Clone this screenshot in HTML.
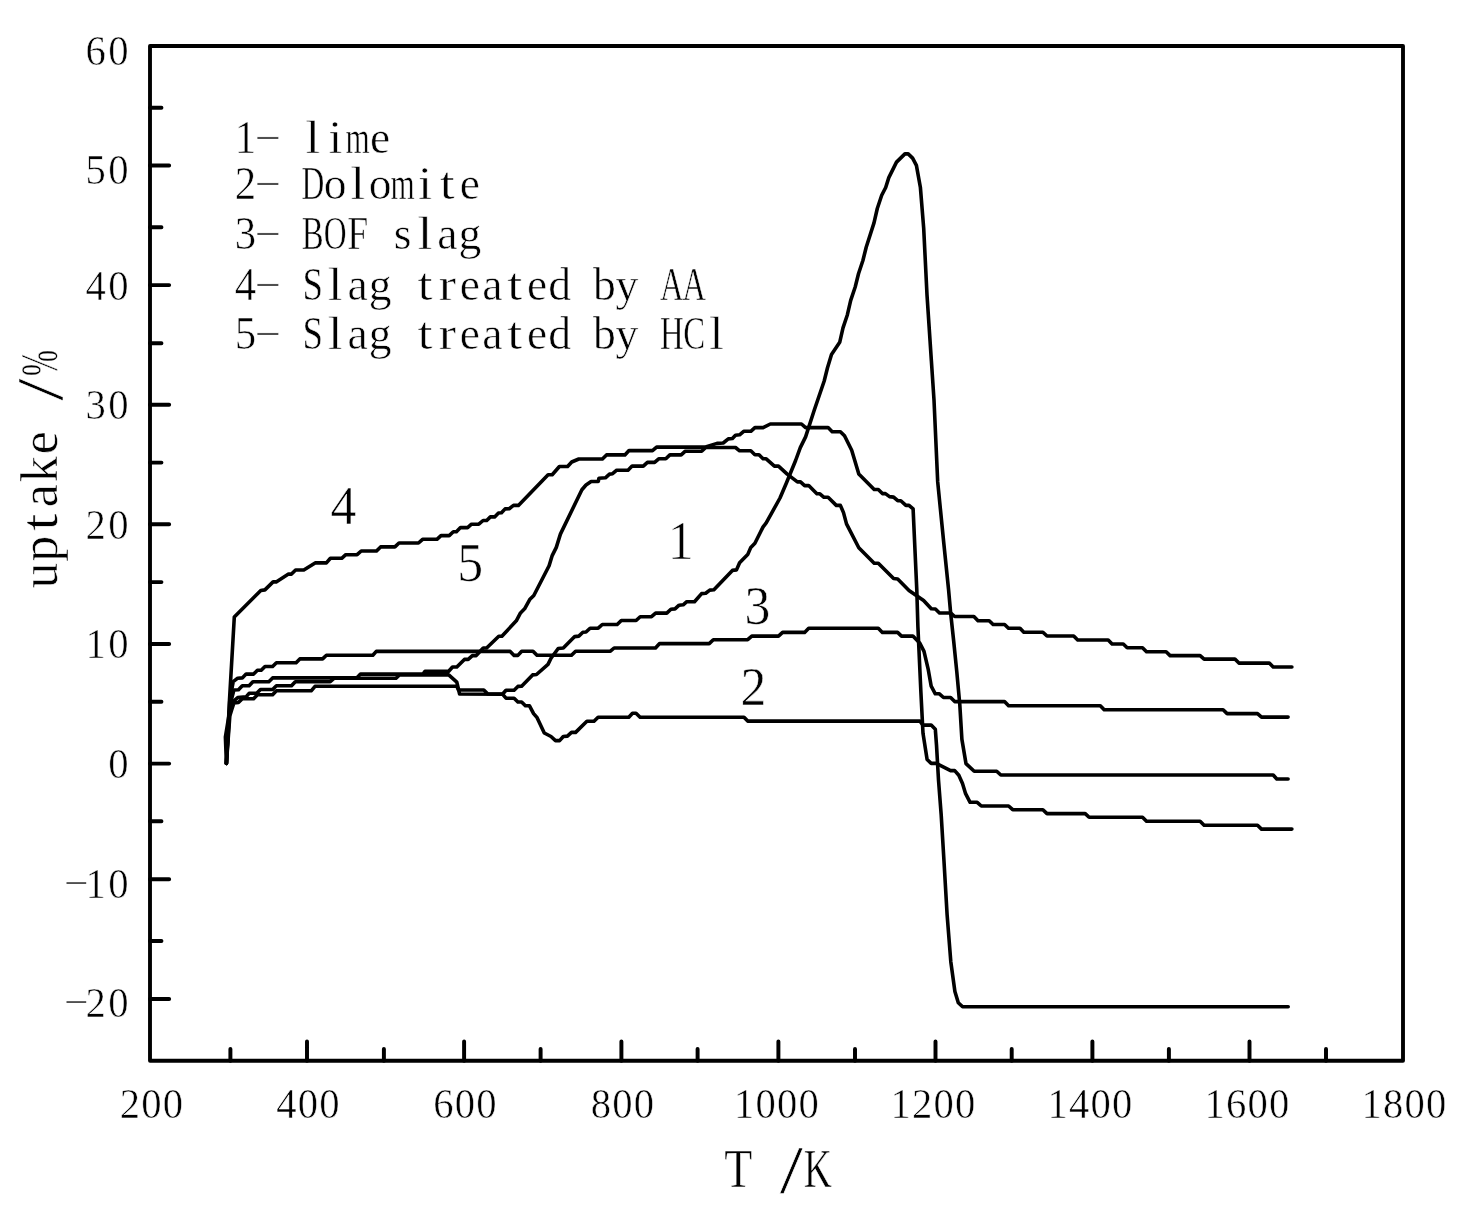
<!DOCTYPE html>
<html lang="en"><head><meta charset="utf-8"><title>uptake vs T</title>
<style>html,body{margin:0;padding:0;background:#fff;overflow:hidden}svg{display:block}text{font-family:'Liberation Serif','Noto Serif CJK SC',serif;fill:#000;stroke:#fff;stroke-width:.55px;paint-order:fill stroke}</style></head>
<body>
<svg width="1479" height="1221" viewBox="0 0 1479 1221">
<rect width="1479" height="1221" fill="#fff"/>
<rect x="150" y="46" width="1253.00" height="1014.75" fill="none" stroke="#000" stroke-width="3.88" stroke-linejoin="round"/>
<path d="M150 165.5H169.15M150 285.1H169.15M150 404.8H169.15M150 524.2H169.15M150 644.0H169.15M150 763.6H169.15M150 879.2H169.15M150 998.9H169.15M150 107.7H161.45M150 227.3H161.45M150 343.3H161.45M150 462.6H161.45M150 582.1H161.45M150 701.8H161.45M150 821.3H161.45M150 940.9H161.45M307.0 1060.75V1041.5M464.1 1060.75V1041.5M621.4 1060.75V1041.5M778.4 1060.75V1041.5M935.5 1060.75V1041.5M1092.4 1060.75V1041.5M1249.5 1060.75V1041.5M230.4 1060.75V1049M383.9 1060.75V1049M540.6 1060.75V1049M697.6 1060.75V1049M855.0 1060.75V1049M1011.7 1060.75V1049M1168.9 1060.75V1049M1326.0 1060.75V1049" fill="none" stroke="#000" stroke-width="3.95" stroke-linecap="round"/>
<g fill="none" stroke="#000" stroke-width="3.6" stroke-linejoin="round" stroke-linecap="round">
<polyline points="226.4,763.5 229.5,700 234.3,617 260.8,590.5 264.9,589.9 273.1,581.9 276.2,581.9 288.5,574.1 291.5,574.1 295.6,570 303.8,570 315.1,562.9 326.4,562.9 330.4,558.3 341.7,558.3 345.8,554.7 357.1,554.7 361.2,551 376.5,551 380.6,546.9 394.9,546.9 399,543 418.5,543 422.6,539.3 436.9,539.3 441,535.6 449.2,535.6 453.3,531.7 456.4,531.7 460.5,527.6 467.6,527.6 471.5,524.2 478.8,524.2 483.1,520.5 486.7,520.5 490.4,516.9 494.6,516.9 498.5,513 501.5,512.8 505.1,508.9 509.2,508.7 513.5,505.4 518.4,505.4 548.1,474.7 552.2,474.7 559.4,466.5 567.6,466.5 571.7,462 578.8,459 602.4,459 606.5,454.9 624.9,454.9 629,450.6 652.5,450.6 656.6,447.1 704.8,447.1 717,443.4 723.2,443 728.3,438.9 732.4,438.5 735.5,435.2 739.6,434.8 743.7,431.3 750.8,431.3 754.9,427.6 763.1,427.6 770.3,424 801.5,424 805.6,427.6 828.1,427.6 832.2,431.7 840.4,431.7 844.5,435.8 851.7,450.2 858.8,474.1 874.2,489.5 878.3,489.5 882.4,493.6 885.4,493.6 889.5,496.6 893.6,497.1 897.7,500.7 900.8,500.7 905.9,505.4 909,505.4 913.1,508.9 916.8,590 917.9,626.8 920.9,692.4 923,733.3 927.1,759.5 931.2,763.4 936.3,763.4 950.6,770.6 954.7,770.6 958.8,775.3 962.5,783.5 965.6,793.7 970.1,802.3 977.2,802.3 981.3,806 1008.6,806 1012.7,809.7 1042.9,809.7 1047,813.6 1085.2,813.6 1089.1,817.3 1142.5,817.3 1146.5,821.3 1200.1,821.3 1204.1,825.2 1257.5,825.2 1261.5,829.1 1291.9,829.1"/>
<polyline points="226.4,763.5 229.8,700 233.2,681.7 237.7,678.2 242.3,677.9 246.1,674.1 253.6,674.1 257.4,670.3 261.2,670.3 265,666.5 272.6,666.5 276.4,662.7 296.1,662.7 299.8,658.9 322.6,658.9 326.4,655.3 372.8,655.3 376.3,651.4 510.2,651.4 514.1,655.4 517.9,655.4 521.7,651.2 533,651.2 537,655.3 571.5,655.3 575.6,651.2 610.4,651.2 614.1,648 655.5,648 659.6,643.6 709.2,643.6 713.3,639.7 747.7,639.7 751.8,636.1 778.5,636.1 782.6,632.4 804.6,632.4 808.7,628.3 878.3,628.3 882.4,632.4 897.6,632.4 901.5,636.1 912.9,636.1 919.9,643.2 924,651.4 928.1,668.8 931.2,686.2 935.3,693.8 939.4,693.8 943.5,697.5 950.6,697.5 954.7,701.6 1004.5,701.6 1008.6,705.8 1100.3,705.8 1104.2,709.8 1223.1,709.8 1227.1,713.6 1257.5,713.6 1261.5,717.1 1288.1,717.1"/>
<polyline points="226.4,763.5 230,705 233.9,690 238.5,689.7 242.3,685.8 249.1,685.8 252.9,681.7 268.8,681.7 272.6,677.9 356.7,677.9 360.5,674.1 423,674.1 425,671.3 448.7,671.3 452.5,667 456.8,667 464.4,659.4 468.2,659.4 472.4,655.6 476.2,655.6 483.3,648 486.6,648 498.8,636.2 501.9,636.2 516.3,620.8 520.5,612.9 524.6,608.8 529.7,599.6 533.8,595.5 549.1,565.8 552.2,555.6 556.3,547.4 560.4,534.1 581.9,489.7 586,485 591.1,481.5 598.3,481.5 598.9,478.2 605.4,477.8 609.5,474.1 612.6,473.7 616.7,470.2 628,470.2 632.1,466.1 643.3,466.1 647.4,462.4 654.6,462.4 658.7,458.8 665.8,458.8 669.9,454.9 681.2,454.9 685.3,451.2 701.7,451.2 705.8,447.5 735.5,447.5 739.6,450.8 750.8,450.8 754.9,454.7 759,454.7 763.1,458.8 766.2,458.8 774.4,466.1 778.5,466.1 787.2,474.1 797.4,481.9 800.5,481.9 804.6,485.6 808.7,485.6 816.9,493.8 819.9,493.8 824,497.3 828.1,497.3 836.3,505.4 840.4,505.4 843.5,512.6 846.5,523.9 858.8,547.8 874.2,563.2 878.3,563.2 893.6,578.5 897.7,579 909,590.4 923.6,600.5 931.3,608.8 935.4,609 939.5,613 950.8,613 954.7,616.5 973.9,616.5 978,620.7 989.2,620.7 993.1,624.5 1004.6,624.5 1008.5,628.3 1020,628.3 1023.8,632.2 1042.9,632.2 1047,636 1073.7,636 1077.7,640 1108.2,640 1112.1,644 1123.3,644 1127.2,647.7 1142.5,647.7 1146.5,651.7 1166.1,651.7 1170.1,655.6 1200.1,655.6 1204.1,659.1 1234.9,659.1 1238.9,663.1 1269.3,663.1 1273.2,667 1291.9,667"/>
<polyline points="226.4,763.5 225.4,737 229.5,712 232.4,702.1 237.7,697.6 246.1,696.8 249.1,693.3 256.7,693.3 260.5,689.5 272.6,689.5 276.4,685.8 291.5,685.8 295.3,681.7 330.2,681.7 333.9,678.3 396,678.3 399.4,674.9 448.7,674.9 456.8,682.1 459.6,694 502.7,694.3 506,698.2 514.1,698.2 517.9,702 521.6,702 525.4,705.8 529.5,705.8 533.6,713.6 537.1,717.7 544.3,733 551,736.5 555.5,740.6 559.6,740.6 563.3,736.5 567.4,736.1 571.5,732.4 575.6,732.4 586.9,721.3 594,721.3 598.1,717.2 628.8,717.2 632.5,713.2 636,713.2 640.1,717.2 744,717.2 747.7,721.1 919.9,721.1 923,725.1 931.2,725.1 935.3,729.2 936.5,745 938.5,780 941.2,815 944,861.4 947.1,914.6 950.8,961.7 954.9,991.4 958.3,1002.7 962.6,1006.8 1288.2,1006.8"/>
<polyline points="226.4,763.5 229.8,716 231.7,709.7 233.9,702.9 238.5,702.4 242.3,698.8 253.6,698.8 257.4,694.8 272.6,694.8 276.4,690.8 311.2,690.8 315,686.3 456.8,686.3 458.5,690 483.8,690 487.6,693.8 502.7,694 506,690.2 514.1,690.2 517.9,686.4 521.6,686.2 532.6,674.9 536.5,674.5 548,664.4 551,658.3 558.2,648.5 563.3,648 574.7,636.6 578.8,636.1 582.9,632.3 586,632 590.1,628.2 598.2,628.2 602.3,624.5 617.2,624.5 621.3,620.5 636.1,620.5 640.2,616.7 651.5,616.7 655.6,613.1 666.8,613.1 670.9,609.3 675,608.9 679.1,605.2 683.2,604.8 686.8,601.7 694.5,601.7 701.6,593.6 705.7,593.2 709.8,590.1 713.9,589.7 732.4,570.4 736.5,569.9 739.6,562.8 747.7,554.6 750.8,547.4 754.9,543.3 763.1,526.9 766.2,522.9 780,498 786.4,483 795.6,460.5 800.3,447.6 805.6,436.9 814.3,410 824.2,381 827.5,367.7 831.5,354.4 839.7,342.3 843,327.9 847.4,314.7 850.7,300.3 855.2,287 858.5,273.8 862.9,260.5 866.2,247.2 874,222.9 877.3,208.5 881.7,195.3 885.7,187.5 888.8,177.6 896.5,162.1 904.9,153.9 908.2,153.9 912.6,158.1 916.4,165.4 920.4,187.5 923.7,228.4 927,294.8 931.4,361.1 934,400 937.7,481.9 943.8,543.3 948.6,590 950.6,612.5 953.7,641.2 956.8,671.9 959.8,704.6 961.9,739.4 966,763.6 974.2,771.2 996.7,771.2 1000.8,775 1273.2,775 1276.8,779 1288.1,779"/>
</g>
<text x="95.70 118.40" y="65.30" font-size="43.20" text-anchor="middle"><tspan textLength="20.30" lengthAdjust="spacingAndGlyphs">6</tspan><tspan textLength="20.30" lengthAdjust="spacingAndGlyphs">0</tspan></text>
<text x="95.70 118.40" y="183.90" font-size="43.20" text-anchor="middle"><tspan textLength="20.30" lengthAdjust="spacingAndGlyphs">5</tspan><tspan textLength="20.30" lengthAdjust="spacingAndGlyphs">0</tspan></text>
<text x="95.70 118.40" y="300.10" font-size="43.20" text-anchor="middle"><tspan textLength="20.30" lengthAdjust="spacingAndGlyphs">4</tspan><tspan textLength="20.30" lengthAdjust="spacingAndGlyphs">0</tspan></text>
<text x="95.70 118.40" y="419.20" font-size="43.20" text-anchor="middle"><tspan textLength="20.30" lengthAdjust="spacingAndGlyphs">3</tspan><tspan textLength="20.30" lengthAdjust="spacingAndGlyphs">0</tspan></text>
<text x="95.70 118.40" y="539.10" font-size="43.20" text-anchor="middle"><tspan textLength="20.30" lengthAdjust="spacingAndGlyphs">2</tspan><tspan textLength="20.30" lengthAdjust="spacingAndGlyphs">0</tspan></text>
<text x="95.70 118.40" y="658.20" font-size="43.20" text-anchor="middle"><tspan textLength="20.30" lengthAdjust="spacingAndGlyphs">1</tspan><tspan textLength="20.30" lengthAdjust="spacingAndGlyphs">0</tspan></text>
<text x="118.40" y="778.10" font-size="43.20" text-anchor="middle"><tspan textLength="20.30" lengthAdjust="spacingAndGlyphs">0</tspan></text>
<text x="76.30 95.70 118.40" y="889.30 898.20 898.20" font-size="43.20" text-anchor="middle"><tspan font-size="25.92" textLength="27.65" lengthAdjust="spacingAndGlyphs">-</tspan><tspan textLength="20.30" lengthAdjust="spacingAndGlyphs">1</tspan><tspan textLength="20.30" lengthAdjust="spacingAndGlyphs">0</tspan></text>
<text x="76.30 95.70 118.40" y="1008.00 1016.90 1016.90" font-size="43.20" text-anchor="middle"><tspan font-size="25.92" textLength="27.65" lengthAdjust="spacingAndGlyphs">-</tspan><tspan textLength="20.30" lengthAdjust="spacingAndGlyphs">2</tspan><tspan textLength="20.30" lengthAdjust="spacingAndGlyphs">0</tspan></text>
<text x="129.90 151.40 172.90" y="1118.30" font-size="43.20" text-anchor="middle"><tspan textLength="20.30" lengthAdjust="spacingAndGlyphs">2</tspan><tspan textLength="20.30" lengthAdjust="spacingAndGlyphs">0</tspan><tspan textLength="20.30" lengthAdjust="spacingAndGlyphs">0</tspan></text>
<text x="286.50 308.00 329.50" y="1118.30" font-size="43.20" text-anchor="middle"><tspan textLength="20.30" lengthAdjust="spacingAndGlyphs">4</tspan><tspan textLength="20.30" lengthAdjust="spacingAndGlyphs">0</tspan><tspan textLength="20.30" lengthAdjust="spacingAndGlyphs">0</tspan></text>
<text x="443.50 465.00 486.50" y="1118.30" font-size="43.20" text-anchor="middle"><tspan textLength="20.30" lengthAdjust="spacingAndGlyphs">6</tspan><tspan textLength="20.30" lengthAdjust="spacingAndGlyphs">0</tspan><tspan textLength="20.30" lengthAdjust="spacingAndGlyphs">0</tspan></text>
<text x="601.00 622.50 644.00" y="1118.30" font-size="43.20" text-anchor="middle"><tspan textLength="20.30" lengthAdjust="spacingAndGlyphs">8</tspan><tspan textLength="20.30" lengthAdjust="spacingAndGlyphs">0</tspan><tspan textLength="20.30" lengthAdjust="spacingAndGlyphs">0</tspan></text>
<text x="744.25 765.75 787.25 808.75" y="1118.30" font-size="43.20" text-anchor="middle"><tspan textLength="20.30" lengthAdjust="spacingAndGlyphs">1</tspan><tspan textLength="20.30" lengthAdjust="spacingAndGlyphs">0</tspan><tspan textLength="20.30" lengthAdjust="spacingAndGlyphs">0</tspan><tspan textLength="20.30" lengthAdjust="spacingAndGlyphs">0</tspan></text>
<text x="900.75 922.25 943.75 965.25" y="1118.30" font-size="43.20" text-anchor="middle"><tspan textLength="20.30" lengthAdjust="spacingAndGlyphs">1</tspan><tspan textLength="20.30" lengthAdjust="spacingAndGlyphs">2</tspan><tspan textLength="20.30" lengthAdjust="spacingAndGlyphs">0</tspan><tspan textLength="20.30" lengthAdjust="spacingAndGlyphs">0</tspan></text>
<text x="1057.75 1079.25 1100.75 1122.25" y="1118.30" font-size="43.20" text-anchor="middle"><tspan textLength="20.30" lengthAdjust="spacingAndGlyphs">1</tspan><tspan textLength="20.30" lengthAdjust="spacingAndGlyphs">4</tspan><tspan textLength="20.30" lengthAdjust="spacingAndGlyphs">0</tspan><tspan textLength="20.30" lengthAdjust="spacingAndGlyphs">0</tspan></text>
<text x="1214.55 1236.05 1257.55 1279.05" y="1118.30" font-size="43.20" text-anchor="middle"><tspan textLength="20.30" lengthAdjust="spacingAndGlyphs">1</tspan><tspan textLength="20.30" lengthAdjust="spacingAndGlyphs">6</tspan><tspan textLength="20.30" lengthAdjust="spacingAndGlyphs">0</tspan><tspan textLength="20.30" lengthAdjust="spacingAndGlyphs">0</tspan></text>
<text x="1371.75 1393.25 1414.75 1436.25" y="1118.30" font-size="43.20" text-anchor="middle"><tspan textLength="20.30" lengthAdjust="spacingAndGlyphs">1</tspan><tspan textLength="20.30" lengthAdjust="spacingAndGlyphs">8</tspan><tspan textLength="20.30" lengthAdjust="spacingAndGlyphs">0</tspan><tspan textLength="20.30" lengthAdjust="spacingAndGlyphs">0</tspan></text>
<text x="245.50 267.94 290.37 312.81 335.24 357.68 380.11" y="153.40 144.01 153.40 153.40 153.40 153.40 153.40" font-size="45.60" text-anchor="middle"><tspan textLength="21.43" lengthAdjust="spacingAndGlyphs">1</tspan><tspan font-size="27.36" textLength="29.18" lengthAdjust="spacingAndGlyphs">-</tspan> <tspan textLength="15.05" lengthAdjust="spacingAndGlyphs">l</tspan><tspan textLength="14.14" lengthAdjust="spacingAndGlyphs">i</tspan><tspan textLength="24.17" lengthAdjust="spacingAndGlyphs">m</tspan>e</text>
<text x="245.50 267.94 290.37 312.81 335.24 357.68 380.11 402.54 424.98 447.41 469.85" y="199.40 190.01 199.40 199.40 199.40 199.40 199.40 199.40 199.40 199.40 199.40" font-size="45.60" text-anchor="middle"><tspan textLength="21.43" lengthAdjust="spacingAndGlyphs">2</tspan><tspan font-size="27.36" textLength="29.18" lengthAdjust="spacingAndGlyphs">-</tspan> <tspan textLength="22.80" lengthAdjust="spacingAndGlyphs">D</tspan>o<tspan textLength="15.05" lengthAdjust="spacingAndGlyphs">l</tspan>o<tspan textLength="24.17" lengthAdjust="spacingAndGlyphs">m</tspan><tspan textLength="14.14" lengthAdjust="spacingAndGlyphs">i</tspan><tspan textLength="15.05" lengthAdjust="spacingAndGlyphs">t</tspan>e</text>
<text x="245.50 267.94 290.37 312.81 335.24 357.68 380.11 402.54 424.98 447.41 469.85" y="249.30 239.91 249.30 249.30 249.30 249.30 249.30 249.30 249.30 249.30 249.30" font-size="45.60" text-anchor="middle"><tspan textLength="21.43" lengthAdjust="spacingAndGlyphs">3</tspan><tspan font-size="27.36" textLength="29.18" lengthAdjust="spacingAndGlyphs">-</tspan> <tspan textLength="21.89" lengthAdjust="spacingAndGlyphs">B</tspan><tspan textLength="22.80" lengthAdjust="spacingAndGlyphs">O</tspan><tspan textLength="20.98" lengthAdjust="spacingAndGlyphs">F</tspan> s<tspan textLength="15.05" lengthAdjust="spacingAndGlyphs">l</tspan>ag</text>
<text x="245.50 267.94 290.37 312.81 335.24 357.68 380.11 402.54 424.98 447.41 469.85 492.28 514.72 537.15 559.59 582.02 604.46 626.89 649.33 671.76 694.20" y="300.30 290.91 300.30 300.30 300.30 300.30 300.30 300.30 300.30 300.30 300.30 300.30 300.30 300.30 300.30 300.30 300.30 300.30 300.30 300.30 300.30" font-size="45.60" text-anchor="middle"><tspan textLength="21.43" lengthAdjust="spacingAndGlyphs">4</tspan><tspan font-size="27.36" textLength="29.18" lengthAdjust="spacingAndGlyphs">-</tspan> <tspan textLength="20.52" lengthAdjust="spacingAndGlyphs">S</tspan><tspan textLength="15.05" lengthAdjust="spacingAndGlyphs">l</tspan>ag <tspan textLength="15.05" lengthAdjust="spacingAndGlyphs">t</tspan><tspan textLength="17.33" lengthAdjust="spacingAndGlyphs">r</tspan>ea<tspan textLength="15.05" lengthAdjust="spacingAndGlyphs">t</tspan>ed by <tspan textLength="23.71" lengthAdjust="spacingAndGlyphs">A</tspan><tspan textLength="23.71" lengthAdjust="spacingAndGlyphs">A</tspan></text>
<text x="245.50 267.94 290.37 312.81 335.24 357.68 380.11 402.54 424.98 447.41 469.85 492.28 514.72 537.15 559.59 582.02 604.46 626.89 649.33 671.76 694.20 716.63" y="349.40 340.01 349.40 349.40 349.40 349.40 349.40 349.40 349.40 349.40 349.40 349.40 349.40 349.40 349.40 349.40 349.40 349.40 349.40 349.40 349.40 349.40" font-size="45.60" text-anchor="middle"><tspan textLength="21.43" lengthAdjust="spacingAndGlyphs">5</tspan><tspan font-size="27.36" textLength="29.18" lengthAdjust="spacingAndGlyphs">-</tspan> <tspan textLength="20.52" lengthAdjust="spacingAndGlyphs">S</tspan><tspan textLength="15.05" lengthAdjust="spacingAndGlyphs">l</tspan>ag <tspan textLength="15.05" lengthAdjust="spacingAndGlyphs">t</tspan><tspan textLength="17.33" lengthAdjust="spacingAndGlyphs">r</tspan>ea<tspan textLength="15.05" lengthAdjust="spacingAndGlyphs">t</tspan>ed by <tspan textLength="23.71" lengthAdjust="spacingAndGlyphs">H</tspan><tspan textLength="21.89" lengthAdjust="spacingAndGlyphs">C</tspan><tspan textLength="15.05" lengthAdjust="spacingAndGlyphs">l</tspan></text>
<text x="343.30" y="523.50" font-size="55.00" text-anchor="middle"><tspan textLength="25.85" lengthAdjust="spacingAndGlyphs">4</tspan></text>
<text x="470.20" y="580.70" font-size="55.00" text-anchor="middle"><tspan textLength="25.85" lengthAdjust="spacingAndGlyphs">5</tspan></text>
<text x="680.60" y="558.70" font-size="55.00" text-anchor="middle"><tspan textLength="25.85" lengthAdjust="spacingAndGlyphs">1</tspan></text>
<text x="757.50" y="623.60" font-size="55.00" text-anchor="middle"><tspan textLength="25.85" lengthAdjust="spacingAndGlyphs">3</tspan></text>
<text x="753.40" y="705.30" font-size="55.00" text-anchor="middle"><tspan textLength="25.85" lengthAdjust="spacingAndGlyphs">2</tspan></text>
<text x="738.40 764.90 791.40 817.90" y="1187.30 1187.30 1191.89 1187.30" font-size="54.00" text-anchor="middle"><tspan textLength="28.08" lengthAdjust="spacingAndGlyphs">T</tspan> <tspan font-size="68.58" textLength="23.22" lengthAdjust="spacingAndGlyphs">/</tspan><tspan textLength="28.08" lengthAdjust="spacingAndGlyphs">K</tspan></text>
<text x="-575.40 -548.85 -522.30 -495.75 -469.20 -442.65 -416.10 -389.55 -363.00" y="57.30 57.30 57.30 57.30 57.30 57.30 57.30 61.72 57.30" font-size="52.00" text-anchor="middle" transform="rotate(-90)">up<tspan textLength="17.16" lengthAdjust="spacingAndGlyphs">t</tspan>ake <tspan font-size="66.04" textLength="22.36" lengthAdjust="spacingAndGlyphs">/</tspan><tspan textLength="26.00" lengthAdjust="spacingAndGlyphs">%</tspan></text>
</svg>
</body></html>
